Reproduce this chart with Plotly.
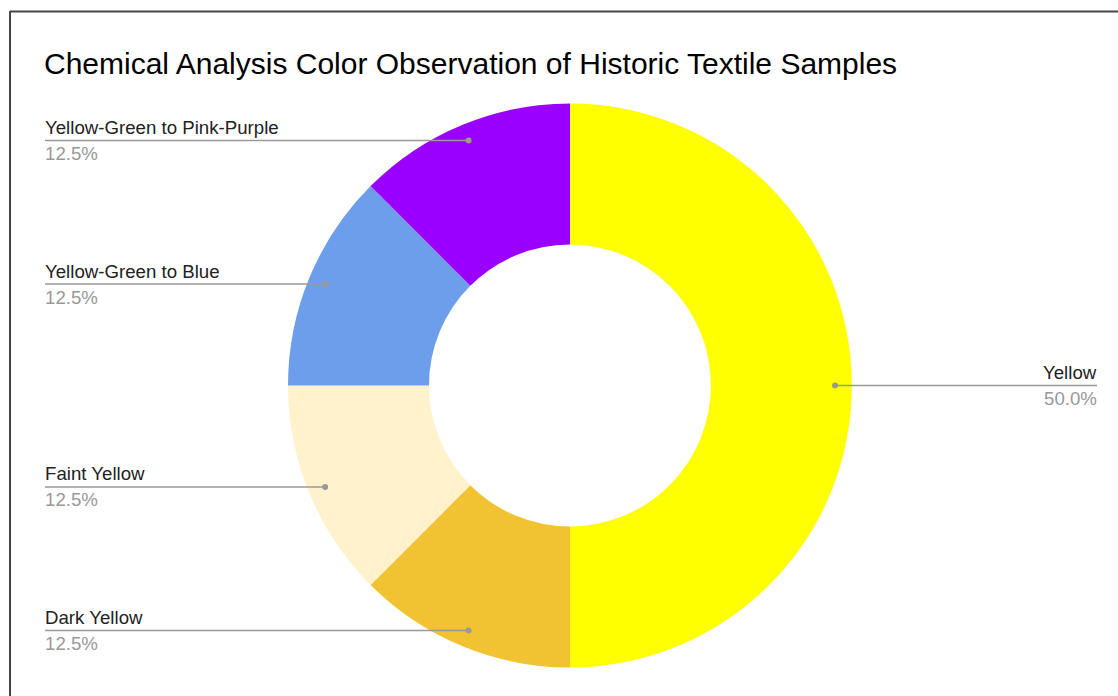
import math
import plotly.graph_objects as go

# ---- data ----
labels = ["Yellow", "Dark Yellow", "Faint Yellow", "Yellow-Green to Blue", "Yellow-Green to Pink-Purple"]
values = [4, 1, 1, 1, 1]
colors = ["#FFFF00", "#F1C232", "#FFF2CC", "#6D9EEB", "#9900FF"]
title_text = "Chemical Analysis Color Observation of Historic Textile Samples"

# ---- layout geometry (pixels) ----
W, H = 1118, 696
CX, CY, R = 570, 385.5, 282
HOLE = 0.5
LEFT_X, RIGHT_X = 45, 1097
FONT = "Arial, Liberation Sans, Helvetica, sans-serif"


def px(x):
    return x / W


def py(y):
    return 1 - y / H


fig = go.Figure()
fig.add_trace(go.Pie(
    labels=labels,
    values=values,
    marker=dict(colors=colors, line=dict(width=0)),
    hole=HOLE,
    sort=False,
    direction="clockwise",
    rotation=0,
    textinfo="none",
    showlegend=False,
    domain=dict(x=[px(CX - R), px(CX + R)], y=[py(CY + R), py(CY - R)]),
))

shapes = []
annotations = []
total = sum(values)
cum = 0
for lab, v in zip(labels, values):
    frac = v / total
    mid = (cum + frac / 2) * 2 * math.pi
    cum += frac
    dx = 0.94 * R * math.sin(mid)
    dy = -0.94 * R * math.cos(mid)
    dot_x, dot_y = CX + dx, CY + dy
    right = dx > 0
    end_x = RIGHT_X if right else LEFT_X
    shapes.append(dict(type="line", xref="paper", yref="paper",
                       x0=px(dot_x), x1=px(end_x), y0=py(dot_y), y1=py(dot_y),
                       line=dict(color="#999999", width=1.5)))
    shapes.append(dict(type="circle", xref="paper", yref="paper",
                       xsizemode="pixel", ysizemode="pixel",
                       xanchor=px(dot_x), yanchor=py(dot_y),
                       x0=-3, x1=3, y0=-3, y1=3,
                       fillcolor="#999999", line=dict(width=0)))
    xa = "right" if right else "left"
    xs = 2 if right else -2
    annotations.append(dict(text=lab, x=px(end_x), y=py(dot_y), xref="paper", yref="paper",
                            xanchor=xa, yanchor="middle", yshift=13, xshift=xs, showarrow=False,
                            font=dict(family=FONT, size=18.67, color="#222222")))
    annotations.append(dict(text=f"{frac*100:.1f}%", x=px(end_x), y=py(dot_y), xref="paper", yref="paper",
                            xanchor=xa, yanchor="middle", yshift=-13, xshift=xs, showarrow=False,
                            font=dict(family=FONT, size=18.67, color="#999999")))

# border (left and top edges visible)
shapes.append(dict(type="line", xref="paper", yref="paper", x0=px(10), x1=px(10), y0=py(11), y1=py(H + 5),
                   line=dict(color="#444444", width=2)))
shapes.append(dict(type="line", xref="paper", yref="paper", x0=px(10), x1=px(W + 5), y0=py(11.5), y1=py(11.5),
                   line=dict(color="#444444", width=2)))

fig.update_layout(
    width=W, height=H,
    margin=dict(l=0, r=0, t=0, b=0),
    paper_bgcolor="white",
    plot_bgcolor="white",
    title=dict(text=title_text, x=px(44), xanchor="left", y=py(63.5), yanchor="middle",
               font=dict(family=FONT, size=30, color="#000000")),
    shapes=shapes,
    annotations=annotations,
)

fig.write_html("out.html")
